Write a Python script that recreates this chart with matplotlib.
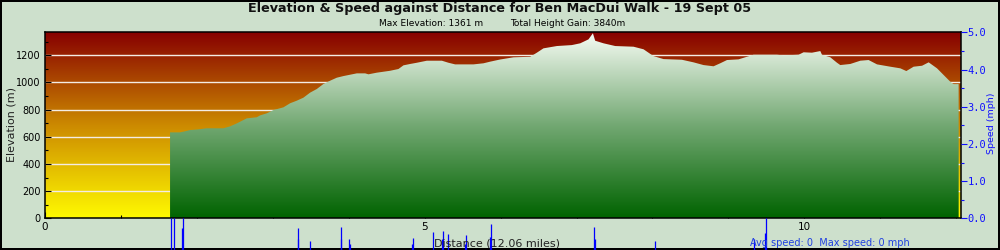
import numpy as np
import matplotlib
matplotlib.use("Agg")
import matplotlib.pyplot as plt
from matplotlib.colors import LinearSegmentedColormap
from matplotlib.patches import PathPatch
from matplotlib.ticker import MultipleLocator, FormatStrFormatter

# ---- data ----
dist_miles = [1.647, 1.779, 1.845, 1.910, 2.020, 2.130, 2.349, 2.437, 2.526, 2.657,
              2.789, 2.833, 2.921, 3.008, 3.140, 3.228, 3.316, 3.403, 3.491, 3.580,
              3.667, 3.755, 3.843, 3.930, 4.018, 4.107, 4.216, 4.260, 4.370, 4.545,
              4.655, 4.721, 4.809, 4.897, 5.029, 5.227, 5.314, 5.402, 5.643, 5.775,
              5.863, 5.995, 6.170, 6.390, 6.478, 6.565, 6.742, 6.939, 7.049, 7.158,
              7.216, 7.246, 7.356, 7.510, 7.751, 7.883, 8.014, 8.146, 8.389, 8.541,
              8.673, 8.805, 8.893, 8.982, 9.134, 9.332, 9.640, 9.727, 9.925, 9.991,
              10.101, 10.211, 10.233, 10.343, 10.431, 10.474, 10.606, 10.738, 10.847, 10.958,
              11.133, 11.265, 11.344, 11.440, 11.551, 11.638, 11.748, 11.835, 11.924, 11.967,
              12.033]
elevation_m = [632, 632, 640, 649, 654, 662, 662, 676, 698, 735,
               743, 757, 772, 796, 816, 846, 865, 887, 924, 951,
               988, 1012, 1034, 1046, 1056, 1066, 1066, 1059, 1071, 1085,
               1098, 1125, 1135, 1144, 1159, 1159, 1144, 1132, 1132, 1140,
               1152, 1168, 1184, 1188, 1218, 1250, 1267, 1274, 1287, 1316,
               1361, 1306, 1287, 1267, 1262, 1243, 1193, 1171, 1166, 1147,
               1127, 1118, 1140, 1164, 1169, 1203, 1203, 1198, 1203, 1221,
               1218, 1230, 1203, 1184, 1144, 1127, 1135, 1159, 1164, 1132,
               1115, 1103, 1083, 1115, 1122, 1147, 1103, 1054, 1004, 987,
               987]

spike_dist = [1.664, 1.696, 1.809, 1.822, 3.329, 3.337, 3.487, 3.896, 3.904, 4.009,
              4.022, 4.835, 4.845, 5.116, 5.234, 5.248, 5.314, 5.538, 5.551, 5.867,
              5.880, 7.237, 7.250, 8.033, 9.332, 9.477, 9.490]
spike_len = [1.0, 1.0, 0.694, 1.0, 0.347, 0.694, 0.284, 0.347, 0.726, 0.347,
             0.189, 0.189, 0.379, 0.568, 0.347, 0.599, 0.505, 0.189, 0.473, 0.410,
             0.820, 0.726, 0.347, 0.284, 0.347, 0.536, 1.0]

title = "Elevation & Speed against Distance for Ben MacDui Walk - 19 Sept 05"
sub1 = "Max Elevation: 1361 m"
sub2 = "Total Height Gain: 3840m"
xlabel = "Distance (12.06 miles)"
ylabel = "Elevation (m)"
y2label = "Speed (mph)"
speed_text = "Avg speed: 0  Max speed: 0 mph"

XMAX = 12.06
YMAX = 1368

BG = "#cde0cc"
BLUE = "#1010ff"

fig = plt.figure(figsize=(10, 2.5), dpi=100, facecolor=BG)
fig.patch.set_edgecolor("black")
fig.patch.set_linewidth(1.5)

L, R, B, T = 45, 960.7, 218.3, 32.3
ax = fig.add_axes([L / 1000, 1 - B / 250, (R - L) / 1000, (B - T) / 250])
ax.set_xlim(0, XMAX)
ax.set_ylim(0, YMAX)

grad = np.linspace(0, 1, 256).reshape(-1, 1)
bg_cmap = LinearSegmentedColormap.from_list("bg", [(1.0, 0.98, 0.0), (0.80, 0.54, 0.0), (0.53, 0.0, 0.0)])
ax.imshow(grad, extent=[0, XMAX, 0, YMAX], aspect="auto", origin="lower", cmap=bg_cmap, zorder=0)

for g in range(200, 1300, 200):
    ax.axhline(g, color="#f4ece4", lw=1.0, zorder=1)

fill_cmap = LinearSegmentedColormap.from_list("fill", [(0.0, 0.39, 0.0), (0.45, 0.66, 0.45), (0.97, 0.99, 0.96)])
poly = ax.fill_between(dist_miles, elevation_m, 0, facecolor="none", edgecolor="none", zorder=2)
img = ax.imshow(grad, extent=[0, XMAX, 0, YMAX], aspect="auto", origin="lower", cmap=fill_cmap, zorder=2)
patch = PathPatch(poly.get_paths()[0], transform=ax.transData, facecolor="none", edgecolor="none")
ax.add_patch(patch)
img.set_clip_path(patch)

for s in ax.spines.values():
    s.set_linewidth(1.1)
    s.set_color("black")
    s.set_zorder(5)

ax.xaxis.set_major_locator(MultipleLocator(5))
ax.xaxis.set_minor_locator(MultipleLocator(1))
ax.yaxis.set_major_locator(MultipleLocator(200))
ax.yaxis.set_minor_locator(MultipleLocator(100))
ax.tick_params(axis="both", which="major", direction="in", length=4, width=0.8, labelsize=7, pad=3)
ax.tick_params(axis="both", which="minor", direction="in", length=2.5, width=0.8)
ax.tick_params(axis="x", which="major", pad=3, labelsize=7.5)

ax2 = ax.twinx()
ax2.set_ylim(0, 5)
ax2.yaxis.set_major_locator(MultipleLocator(1))
ax2.yaxis.set_minor_locator(MultipleLocator(0.5))
ax2.yaxis.set_major_formatter(FormatStrFormatter("%.1f"))
ax2.tick_params(axis="y", which="major", direction="out", length=4, width=0.8, colors=BLUE, labelsize=7.5, pad=1)
ax2.tick_params(axis="y", which="minor", direction="out", length=2.5, width=0.8, colors=BLUE)
for lab in ax2.get_yticklabels():
    lab.set_family("DejaVu Sans Mono")
for s in ax2.spines.values():
    s.set_visible(False)

# speed spikes below the axis
axs = fig.add_axes([L / 1000, 0.0, (R - L) / 1000, 1 - B / 250])
axs.set_xlim(0, XMAX)
axs.set_ylim(0, 1)
axs.axis("off")
axs.patch.set_visible(False)
axs.vlines(spike_dist, 0, spike_len, color="#0000ff", lw=0.9)

fig.text(0.5, 1 - 8.5 / 250, title, ha="center", va="center", fontsize=9.2, fontweight="bold", color="#111111")
fig.text(379 / 1000, 1 - 24 / 250, sub1, ha="left", va="center", fontsize=6.5)
fig.text(510 / 1000, 1 - 24 / 250, sub2, ha="left", va="center", fontsize=6.5)
fig.text(497 / 1000, 1 - 243 / 250, xlabel, ha="center", va="center", fontsize=8, color="#222222")
fig.text(750 / 1000, 1 - 243 / 250, speed_text, ha="left", va="center", fontsize=7, color="#2040e0")
fig.text(12 / 1000, 1 - 124 / 250, ylabel, ha="center", va="center", rotation=90, fontsize=8, color="#222222")
fig.text(992 / 1000, 1 - 123 / 250, y2label, ha="center", va="center", rotation=90, fontsize=6.8, color=BLUE)

fig.savefig("out.png", dpi=100, facecolor=BG, edgecolor="black")
